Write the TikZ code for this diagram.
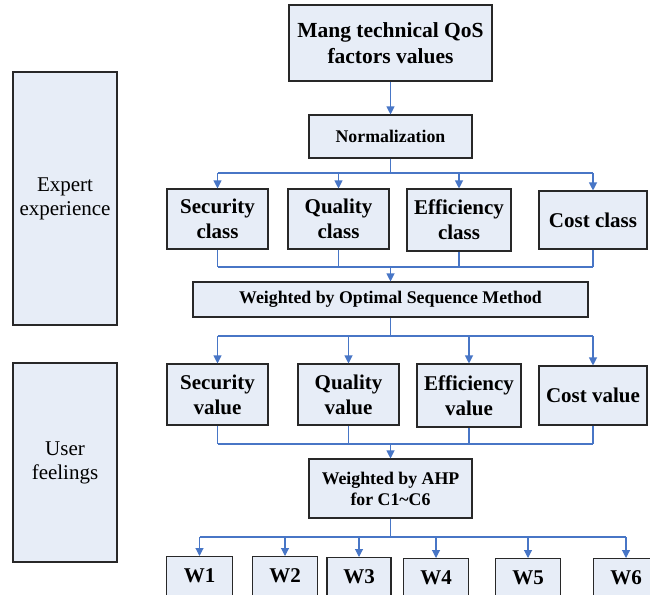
\documentclass[tikz,border=0pt]{standalone}
\usepackage{fontspec}
\setmainfont{Liberation Serif}
\usetikzlibrary{arrows.meta}
\definecolor{boxfill}{RGB}{231,237,247}
\definecolor{boxline}{RGB}{40,40,40}
\definecolor{conncol}{RGB}{72,118,198}
\tikzset{
  box/.style={draw=boxline, fill=boxfill, line width=1.1pt, inner sep=0pt, align=center,
    font=\bfseries\fontsize{21}{25}\selectfont},
  bigbox/.style={box, font=\bfseries\fontsize{21.5}{26}\selectfont},
  midbox/.style={box, font=\bfseries\fontsize{17.8}{21}\selectfont},
  sidebox/.style={box, font=\fontsize{21}{24}\selectfont},
  wbox/.style={box, anchor=north, minimum width=65.5pt, text height=26pt, text depth=24pt,
    font=\bfseries\fontsize{21}{25}\selectfont},
  link/.style={draw=conncol, line width=1.1pt},
  arr/.style={link, -{Triangle[width=8pt,length=8pt]}}
}
\begin{document}
\begin{tikzpicture}[x=1pt,y=-1pt]
\clip (0,0) rectangle (650,594);
\fill[white] (0,0) rectangle (650,594);
% side boxes
\node[sidebox, minimum width=104pt, minimum height=253pt] (expert) at (65,198.5) {Expert\\experience};
\node[sidebox, minimum width=104pt, minimum height=199pt] (user) at (65,462.5) {User\\feelings};
% main flow
\node[bigbox, minimum width=203pt, minimum height=76pt] (top) at (390.5,43) {Mang technical QoS\\factors values};
\node[midbox, minimum width=163pt, minimum height=43pt] (norm) at (390.5,136.5) {Normalization};
\node[box, minimum width=101pt, minimum height=60pt] (sc) at (217.5,219) {Security\\class};
\node[box, minimum width=101pt, minimum height=60pt] (qc) at (338.5,219) {Quality\\class};
\node[box, minimum width=104pt, minimum height=62pt] (ec) at (459,220) {Efficiency\\class};
\node[box, minimum width=108pt, minimum height=58pt] (cc) at (593,220) {Cost class};
\node[midbox, minimum width=395pt, minimum height=35pt] (osm) at (390.5,299.5) {Weighted by Optimal Sequence Method};
\node[box, minimum width=101pt, minimum height=61pt] (sv) at (217.5,394.5) {Security\\value};
\node[box, minimum width=101pt, minimum height=61pt] (qv) at (348.5,394.5) {Quality\\value};
\node[box, minimum width=104pt, minimum height=63pt] (ev) at (469,395.5) {Efficiency\\value};
\node[box, minimum width=108pt, minimum height=59pt] (cv) at (593,395.5) {Cost value};
\node[midbox, minimum width=163pt, minimum height=59pt] (ahp) at (390.5,488.5) {Weighted by AHP\\for C1\textasciitilde C6};
\node[wbox] (w1) at (199.5,556) {W1};
\node[wbox] (w2) at (285,556) {W2};
\node[wbox, minimum width=64pt] (w3) at (359,557) {W3};
\node[wbox] (w4) at (436,558) {W4};
\node[wbox] (w5) at (528,558) {W5};
\node[wbox] (w6) at (626,558) {W6};
% connectors
\draw[arr] (top) -- (norm);
\coordinate (b1) at (390.5,173);
\draw[link] (norm.south) -- (b1);
\draw[link] (b1 -| sc.north) -- (b1 -| cc.north);
\foreach \n in {sc,qc,ec,cc} \draw[arr] (b1 -| \n.north) -- (\n.north);
\coordinate (m1) at (390.5,267);
\foreach \n in {sc,qc,ec,cc} \draw[link] (\n.south) -- (m1 -| \n.south);
\draw[link] (m1 -| sc.south) -- (m1 -| cc.south);
\draw[arr] (m1) -- (osm.north);
\coordinate (b2) at (390.5,336);
\draw[link] (osm.south) -- (b2);
\draw[link] (b2 -| sv.north) -- (b2 -| cv.north);
\foreach \n in {sv,qv,ev,cv} \draw[arr] (b2 -| \n.north) -- (\n.north);
\coordinate (m2) at (390.5,444);
\foreach \n in {sv,qv,ev,cv} \draw[link] (\n.south) -- (m2 -| \n.south);
\draw[link] (m2 -| sv.south) -- (m2 -| cv.south);
\draw[arr] (m2) -- (ahp.north);
\coordinate (b3) at (390.5,537);
\draw[link] (ahp.south) -- (b3);
\draw[link] (b3 -| w1.north) -- (b3 -| w6.north);
\foreach \n in {w1,w2,w3,w4,w5,w6} \draw[arr] (b3 -| \n.north) -- (\n.north);
\end{tikzpicture}
\end{document}
